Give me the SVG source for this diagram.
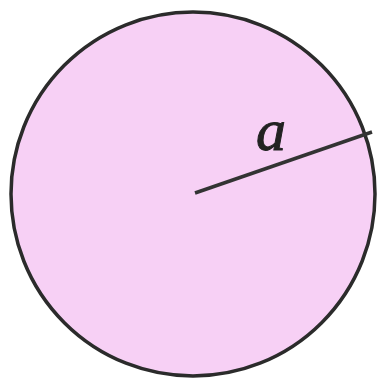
<svg xmlns="http://www.w3.org/2000/svg" width="379" height="383" viewBox="0 0 379 383">
<style>
.lbl{font-family:"Liberation Serif","DejaVu Serif",serif;font-style:italic;font-size:60px;fill:#222;stroke:#222;stroke-width:1}
</style>
<rect width="379" height="383" fill="#ffffff"/>
<g id="circle">
<circle cx="193" cy="194" r="182" fill="#f7d0f5" stroke="#2b2b2b" stroke-width="3.5"/>
</g>
<g id="connectors">
<line x1="195" y1="193" x2="372" y2="132" stroke="#333" stroke-width="3.5"/>
</g>
<g id="label">
<text class="lbl" x="256" y="150">a</text>
</g>
</svg>
